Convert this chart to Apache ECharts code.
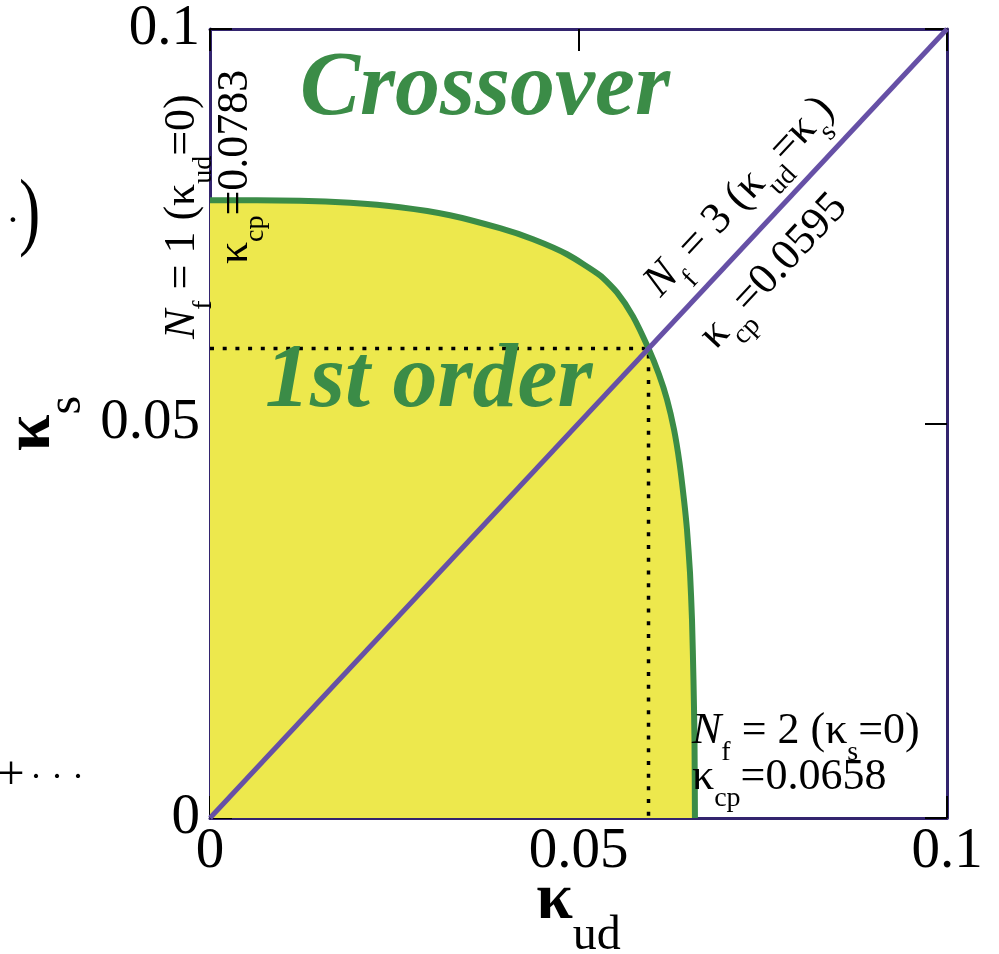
<!DOCTYPE html>
<html>
<head>
<meta charset="utf-8">
<script src="https://cdn.jsdelivr.net/npm/echarts@6/dist/echarts.min.js"></script>
<style>
  html, body { margin: 0; padding: 0; background: #ffffff; }
  #chart { width: 999px; height: 954px; }
</style>
</head>
<body>
<div id="chart"></div>
<script>
// Critical line between the first-order region and the crossover region
// in the (kappa_ud, kappa_s) plane.
const boundaryUd = [0, 0.01221, 0.01900, 0.02578, 0.03256, 0.03935, 0.04383, 0.04844, 0.05292, 0.05522, 0.05739, 0.0595,
                    0.06092, 0.06201, 0.06296, 0.06370, 0.06431, 0.06472, 0.06513, 0.06540, 0.06560, 0.06574, 0.0658];
const boundaryS  = [0.0783, 0.07824, 0.07798, 0.07741, 0.07640, 0.07475, 0.07335, 0.07145, 0.06878, 0.06662, 0.06358, 0.0595,
                    0.05622, 0.05305, 0.04924, 0.04505, 0.04036, 0.03655, 0.03109, 0.02513, 0.01751, 0.00990, 0];

// N_f = 3 symmetric line kappa_ud = kappa_s
const diagonalUd = [0, 0.1];
const diagonalS  = [0, 0.1];

// Critical point on the symmetric line
const kappaCp3 = 0.0595;

// Axis ticks
const axisTicks = [0, 0.05, 0.1];
const axisMin = 0, axisMax = 0.1, axisStep = 0.05;

const SERIF = '"Liberation Serif", "Times New Roman", serif';
const GREEN = '#3b8c47';
const YELLOW = '#ede84d';
const PURPLE = '#6650a6';
const FRAME = '#33246e';

const boundary = boundaryUd.map((x, i) => [x, boundaryS[i]]);
const diagonal = diagonalUd.map((x, i) => [x, diagonalS[i]]);
const guide = [[0, kappaCp3], [kappaCp3, kappaCp3], [kappaCp3, 0]];

const tickLabel = v => {
  const t = axisTicks.find(a => Math.abs(a - v) < 1e-9);
  return t === undefined ? '' : String(t);
};

// rich-text styles: main text, italic, subscript
function richStyles(F, S, P) {
  return {
    n:  { fontFamily: SERIF, fontSize: F, lineHeight: F, verticalAlign: 'top', color: '#000' },
    i:  { fontFamily: SERIF, fontSize: F, lineHeight: F, verticalAlign: 'top', fontStyle: 'italic', color: '#000' },
    s:  { fontFamily: SERIF, fontSize: S, lineHeight: S, verticalAlign: 'top', padding: [P, 0, 0, 0], color: '#000' }
  };
}

const axisNameRich = {
  k:   { fontFamily: SERIF, fontSize: 66, lineHeight: 66, fontWeight: 'bold', verticalAlign: 'top', color: '#000' },
  sub: { fontFamily: SERIF, fontSize: 48, lineHeight: 48, verticalAlign: 'top', padding: [44, 0, 0, 0], color: '#000' }
};

const labelFont = { fontFamily: SERIF, fontSize: 57, color: '#000', lineHeight: 57 };

function valueAxis(extra) {
  return Object.assign({
    type: 'value', min: axisMin, max: axisMax, interval: axisStep,
    nameMoveOverlap: false,
    axisLine: { show: true, onZero: false, lineStyle: { color: FRAME, width: 3 } },
    axisTick: { show: true, inside: true, length: 22, lineStyle: { color: '#000', width: 2 } },
    splitLine: { show: false },
    axisLabel: Object.assign({ formatter: tickLabel }, labelFont)
  }, extra);
}

const chart = echarts.init(document.getElementById('chart'), null, { renderer: 'canvas' });

chart.setOption({
  animation: false,
  backgroundColor: '#ffffff',
  grid: { left: 210, right: 52, top: 29, bottom: 136, containLabel: false, outerBoundsMode: 'none' },
  xAxis: [
    valueAxis({
      position: 'bottom',
      name: '{k|κ}{sub|ud}', nameLocation: 'middle', nameGap: 50,
      nameTextStyle: { rich: axisNameRich },
      axisLabel: Object.assign({ formatter: tickLabel, margin: 6 }, labelFont)
    }),
    valueAxis({ position: 'top', axisLabel: { show: false } })
  ],
  yAxis: [
    valueAxis({
      position: 'left',
      name: '{k|κ}{sub|s}', nameLocation: 'middle', nameGap: 145, nameRotate: 90,
      nameTextStyle: { rich: axisNameRich },
      axisLabel: Object.assign({ formatter: tickLabel, margin: 10 }, labelFont)
    }),
    valueAxis({ position: 'right', axisLabel: { show: false } })
  ],
  series: [
    { // first-order region
      type: 'line', data: boundary, symbol: 'none', smooth: 0.2,
      lineStyle: { width: 0, opacity: 0 },
      areaStyle: { color: YELLOW, opacity: 1 }, z: 1, silent: true
    },
    { // guide lines to the N_f = 3 critical point
      type: 'line', data: guide, symbol: 'none',
      lineStyle: { color: '#000', width: 3.5, type: [4, 8.7] }, z: 2, silent: true
    },
    { // critical line
      type: 'line', data: boundary, symbol: 'none', smooth: 0.2,
      lineStyle: { color: GREEN, width: 6 }, z: 3, silent: true
    },
    { // symmetric line
      type: 'line', data: diagonal, symbol: 'none',
      lineStyle: { color: PURPLE, width: 5 }, z: 4, silent: true
    }
  ]
});

// Annotations anchored in data coordinates
const angleDiag = (() => {
  const a = chart.convertToPixel({ gridIndex: 0 }, [0, 0]);
  const b = chart.convertToPixel({ gridIndex: 0 }, [0.1, 0.1]);
  return Math.atan2(a[1] - b[1], b[0] - a[0]);
})();

const F = 44, S = 28, P = 29;
const annotations = [
  { at: [0.0122, 0.0922], text: 'Crossover', big: true },
  { at: [0.00746, 0.0552], text: '1st order', big: true },
  { at: [-0.0067, 0.0607], rot: Math.PI / 2,
    text: '{i|N}{s|f}{n| = 1 (κ}{s|ud}{n|=0)}' },
  { at: [0.0004, 0.0702], rot: Math.PI / 2,
    text: '{n|κ}{s|cp}{n|=0.0783}' },
  { at: [0.0654, 0.0137], rot: 0,
    text: '{i|N}{s|f}{n| = 2 (κ}{s|s}{n|=0)}' },
  { at: [0.0654, 0.0079], rot: 0,
    text: '{n|κ}{s|cp}{n|=0.0658}' },
  { at: [0.0578, 0.0688], rot: 'diag',
    text: '{i|N}{s|f}{n| = 3 (κ}{s|ud}{n|=κ}{s|s}{n|)}' },
  { at: [0.0653, 0.0622], rot: 'diag',
    text: '{n|κ}{s|cp}{n|=0.0595}' }
];

const graphics = annotations.map(a => {
  const p = chart.convertToPixel({ gridIndex: 0 }, a.at);
  if (a.big) {
    return {
      type: 'text', x: p[0], y: p[1], z: 10, silent: true,
      style: {
        text: a.text, fill: GREEN, align: 'left', verticalAlign: 'middle',
        font: 'italic bold 90px ' + SERIF
      }
    };
  }
  return {
    type: 'text', x: p[0], y: p[1], z: 10, silent: true,
    rotation: a.rot === 'diag' ? angleDiag : a.rot,
    style: {
      text: a.text, align: 'left', verticalAlign: 'top',
      rich: richStyles(F, S, P)
    }
  };
});

// Fragments of the neighbouring formula at the left edge
graphics.push(
  { type: 'text', x: 13, y: 222, silent: true,
    style: { text: '·', fill: '#000', align: 'center', verticalAlign: 'middle', font: '40px ' + SERIF } },
  { type: 'text', x: 19, y: 216, scaleY: 1.35, silent: true,
    style: { text: ')', fill: '#000', align: 'left', verticalAlign: 'middle', font: '64px ' + SERIF } },
  { type: 'text', x: 11, y: 776, silent: true,
    style: { text: '+', fill: '#000', align: 'center', verticalAlign: 'middle', font: '48px ' + SERIF } },
  { type: 'text', x: 30, y: 779, silent: true,
    style: { text: '· · ·', fill: '#000', align: 'left', verticalAlign: 'middle', font: '36px ' + SERIF } }
);

chart.setOption({ graphic: graphics });
</script>
</body>
</html>
